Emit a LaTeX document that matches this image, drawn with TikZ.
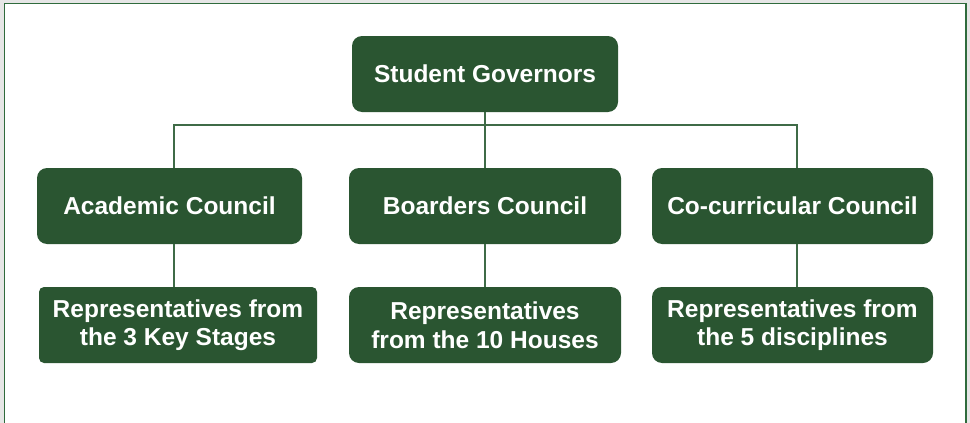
\documentclass[tikz,border=0pt]{standalone}
\usepackage{fontspec}
\setmainfont{Liberation Sans}
\definecolor{boxgreen}{HTML}{2A5531}
\definecolor{linegreen}{HTML}{3F6B47}
\definecolor{framegreen}{HTML}{2F6B3C}
\definecolor{bggray}{HTML}{E6E6E6}
\tikzset{
  orgbox/.style={fill=boxgreen, draw=none, rounded corners=10pt, text=white,
    font=\fontsize{24.5}{28.5}\selectfont\bfseries, align=center,
    minimum height=76pt, inner sep=0pt},
  conn/.style={draw=linegreen, line width=1.2pt}
}
\begin{document}
\begin{tikzpicture}[x=1pt,y=-1pt]
\useasboundingbox (0,0) rectangle (970,423);
\fill[bggray] (0,0) rectangle (970,423);
\fill[white] (4.5,3.5) rectangle (966,440);
\draw[framegreen, line width=1.5pt] (4.5,440) -- (4.5,3.5) -- (966,3.5) -- (966,440);

\node[orgbox, minimum width=266pt] (gov) at (485,74) {Student Governors};
\node[orgbox, minimum width=265pt] (ac) at (169.5,206) {Academic Council};
\node[orgbox, minimum width=272pt] (bc) at (485,206) {Boarders Council};
\node[orgbox, minimum width=281pt] (cc) at (792.5,206) {Co-curricular Council};
\node[orgbox, minimum width=278pt, rounded corners=5pt] (ar) at (178,325) {Representatives from\\the 3 Key Stages};
\node[orgbox, minimum width=272pt] (br) at (485,325) {Representatives\\from the 10 Houses};
\node[orgbox, minimum width=281pt] (cr) at (792.5,325) {Representatives from\\the 5 disciplines};

\coordinate (jl) at (174,125);
\coordinate (jm) at (485,125);
\coordinate (jr) at (797,125);

\draw[conn] (jl |- ac.north) -- (jl) -- (jr) -- (jr |- cc.north);
\draw[conn] (gov.south) -- (bc.north);
\draw[conn] (ac.south -| jl) -- (ar.north -| jl);
\draw[conn] (bc.south) -- (br.north);
\draw[conn] (cc.south -| jr) -- (cr.north -| jr);
\end{tikzpicture}
\end{document}
